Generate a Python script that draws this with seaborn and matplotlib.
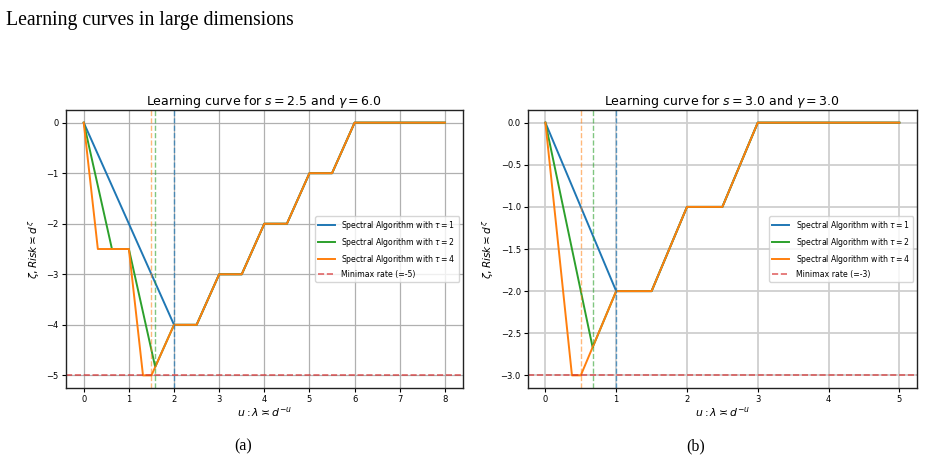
import numpy as np
import pandas as pd
import matplotlib
matplotlib.use("Agg")
import matplotlib.pyplot as plt
import seaborn as sns

# panel (a): s = 2.5, gamma = 6.0
u_tau1_a = [0, 2, 2.5, 3, 3.5, 4, 4.5, 5, 5.5, 6, 8]
z_tau1_a = [0, -4, -4, -3, -3, -2, -2, -1, -1, 0, 0]
u_tau2_a = [0, 0.625, 1, 1.583, 2, 2.5, 3, 3.5, 4, 4.5, 5, 5.5, 6, 8]
z_tau2_a = [0, -2.5, -2.5, -4.833, -4, -4, -3, -3, -2, -2, -1, -1, 0, 0]
u_tau4_a = [0, 0.3125, 1, 1.3125, 1.5, 2, 2.5, 3, 3.5, 4, 4.5, 5, 5.5, 6, 8]
z_tau4_a = [0, -2.5, -2.5, -5, -5, -4, -4, -3, -3, -2, -2, -1, -1, 0, 0]
vlines_a = [2, 1.583, 1.5]
minimax_a = -5

# panel (b): s = 3.0, gamma = 3.0
u_tau1_b = [0, 1, 1.5, 2, 2.5, 3, 5]
z_tau1_b = [0, -2, -2, -1, -1, 0, 0]
u_tau2_b = [0, 0.667, 1, 1.5, 2, 2.5, 3, 5]
z_tau2_b = [0, -2.667, -2, -2, -1, -1, 0, 0]
u_tau4_b = [0, 0.375, 0.5, 1, 1.5, 2, 2.5, 3, 5]
z_tau4_b = [0, -3, -3, -2, -2, -1, -1, 0, 0]
vlines_b = [1, 0.667, 0.5]
minimax_b = -3

taus = [1, 2, 4]
colors = ["#1f77b4", "#2ca02c", "#ff7f0e"]
vline_alpha = [0.7, 0.6, 0.55]

fig = plt.figure(figsize=(9.25, 4.59), dpi=100)
ax_a = fig.add_axes([0.0710, 0.1547, 0.4295, 0.6056])
ax_b = fig.add_axes([0.5705, 0.1547, 0.4209, 0.6056])


def draw_panel(ax, us, zs, vlines, minimax, s, gamma, grid_color, grid_lw):
    ax.grid(True, color=grid_color, linewidth=grid_lw, zorder=0)
    ax.set_axisbelow(True)
    for u, z, tau, c in zip(us, zs, taus, colors):
        df = pd.DataFrame({"u": u, "zeta": z})
        sns.lineplot(data=df, x="u", y="zeta", ax=ax, color=c, lw=1.4,
                     sort=False, estimator=None,
                     label=rf"Spectral Algorithm with $\tau = {tau}$")
    for v, c, a in zip(vlines, colors, vline_alpha):
        ax.axvline(v, color=c, ls="--", lw=1.0, alpha=a)
    ax.axhline(minimax, color="#d62728", ls="--", lw=1.2, alpha=0.7,
               label=f"Minimax rate (={minimax})")
    ax.set_title(rf"Learning curve for $s = {s}$ and $\gamma = {gamma}$",
                 fontsize=9, pad=3)
    ax.set_xlabel(r"$u: \lambda \asymp d^{-u}$", fontsize=7.8, labelpad=1)
    ax.set_ylabel(r"$\zeta, Risk \asymp d^{\zeta}$", fontsize=7.6, labelpad=3)
    ax.tick_params(labelsize=6, length=3, width=0.8, pad=2)
    for sp in ax.spines.values():
        sp.set_linewidth(1.0)
        sp.set_color("#222222")
    ax.legend(loc="center right", fontsize=5.6, handlelength=2.2,
              framealpha=0.8, edgecolor="#cccccc", fancybox=True)


draw_panel(ax_a, [u_tau1_a, u_tau2_a, u_tau4_a], [z_tau1_a, z_tau2_a, z_tau4_a],
           vlines_a, minimax_a, 2.5, 6.0, "#b0b0b0", 0.9)
draw_panel(ax_b, [u_tau1_b, u_tau2_b, u_tau4_b], [z_tau1_b, z_tau2_b, z_tau4_b],
           vlines_b, minimax_b, 3.0, 3.0, "#cfcfcf", 1.3)

fig.text(0.007, 0.975, "Learning curves in large dimensions",
         family="Liberation Serif", fontsize=14.2, va="top", ha="left")
fig.text(0.263, 0.028, "(a)", family="Liberation Serif", fontsize=11.5,
         ha="center", va="center")
fig.text(0.752, 0.028, "(b)", family="Liberation Serif", fontsize=11.5,
         ha="center", va="center")

fig.savefig("out.png", dpi=100)
